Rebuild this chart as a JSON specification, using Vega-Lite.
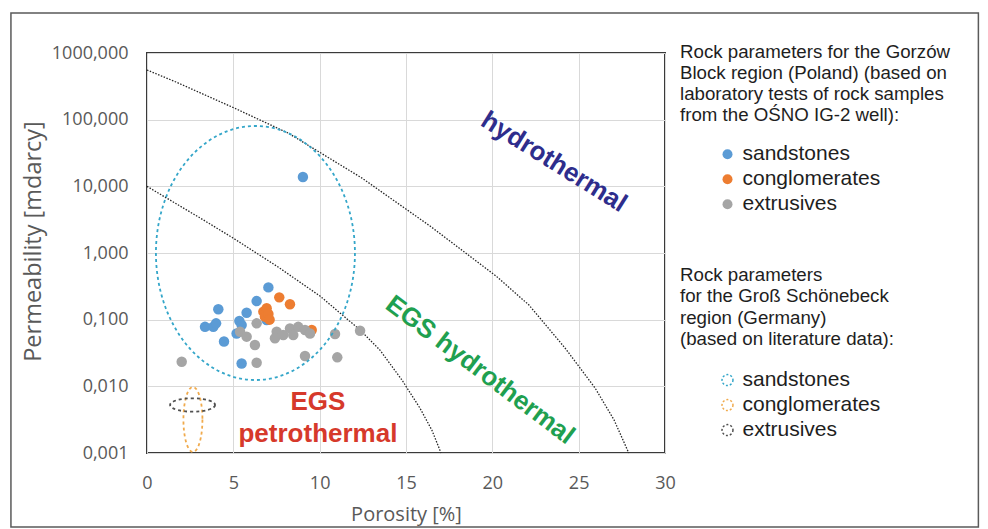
{
  "$schema": "https://vega.github.io/schema/vega-lite/v6.json",
  "width": 518,
  "height": 400,
  "autosize": {"type": "none"},
  "padding": {"left": 147, "top": 53, "right": 323, "bottom": 76},
  "background": "white",
  "config": {
    "view": {"stroke": "#3a3a3a", "strokeWidth": 2},
    "axis": {
      "grid": true,
      "gridColor": "#d9d9d9",
      "gridWidth": 1,
      "ticks": false,
      "domain": false,
      "labelFont": "Open Sans",
      "labelFontSize": 18,
      "labelColor": "#595959",
      "titleFont": "Open Sans",
      "titleFontSize": 20,
      "titleFontWeight": "normal",
      "titleColor": "#595959",
      "labelFlush": false
    },
    "legend": {
      "padding": 0,
      "titleFont": "Liberation Sans",
      "titleFontSize": 18.7,
      "titleFontWeight": "normal",
      "titleColor": "#1e1e1e",
      "titleLimit": 400,
      "titleLineHeight": 21,
      "labelFont": "Liberation Sans",
      "labelFontSize": 21,
      "labelColor": "#1e1e1e",
      "labelLimit": 300,
      "rowPadding": 3
    }
  },
  "datasets": {
    "samples": [
      {"rock": "sandstones", "porosity": 7.03, "permeability": 0.305},
      {"rock": "sandstones", "porosity": 6.35, "permeability": 0.19},
      {"rock": "sandstones", "porosity": 4.13, "permeability": 0.143},
      {"rock": "sandstones", "porosity": 5.77, "permeability": 0.127},
      {"rock": "sandstones", "porosity": 5.35, "permeability": 0.0955},
      {"rock": "sandstones", "porosity": 3.36, "permeability": 0.078},
      {"rock": "sandstones", "porosity": 3.84, "permeability": 0.078},
      {"rock": "sandstones", "porosity": 4.0, "permeability": 0.088},
      {"rock": "sandstones", "porosity": 5.48, "permeability": 0.083},
      {"rock": "sandstones", "porosity": 5.19, "permeability": 0.062},
      {"rock": "sandstones", "porosity": 6.93, "permeability": 0.099},
      {"rock": "sandstones", "porosity": 4.46, "permeability": 0.047},
      {"rock": "sandstones", "porosity": 5.48, "permeability": 0.022},
      {"rock": "sandstones", "porosity": 9.03, "permeability": 13.8},
      {"rock": "conglomerates", "porosity": 7.66, "permeability": 0.216},
      {"rock": "conglomerates", "porosity": 8.28, "permeability": 0.17},
      {"rock": "conglomerates", "porosity": 6.74, "permeability": 0.132},
      {"rock": "conglomerates", "porosity": 6.93, "permeability": 0.148},
      {"rock": "conglomerates", "porosity": 6.83, "permeability": 0.111},
      {"rock": "conglomerates", "porosity": 7.03, "permeability": 0.122},
      {"rock": "conglomerates", "porosity": 7.1, "permeability": 0.1},
      {"rock": "conglomerates", "porosity": 9.54, "permeability": 0.07},
      {"rock": "extrusives", "porosity": 2.01, "permeability": 0.0234},
      {"rock": "extrusives", "porosity": 6.35, "permeability": 0.088},
      {"rock": "extrusives", "porosity": 5.39, "permeability": 0.066},
      {"rock": "extrusives", "porosity": 5.77, "permeability": 0.0556},
      {"rock": "extrusives", "porosity": 6.25, "permeability": 0.0417},
      {"rock": "extrusives", "porosity": 6.35, "permeability": 0.0226},
      {"rock": "extrusives", "porosity": 7.51, "permeability": 0.066},
      {"rock": "extrusives", "porosity": 7.41, "permeability": 0.0525},
      {"rock": "extrusives", "porosity": 7.89, "permeability": 0.059},
      {"rock": "extrusives", "porosity": 8.28, "permeability": 0.074},
      {"rock": "extrusives", "porosity": 8.76, "permeability": 0.078},
      {"rock": "extrusives", "porosity": 8.47, "permeability": 0.059},
      {"rock": "extrusives", "porosity": 9.15, "permeability": 0.07},
      {"rock": "extrusives", "porosity": 9.44, "permeability": 0.062},
      {"rock": "extrusives", "porosity": 9.15, "permeability": 0.0285},
      {"rock": "extrusives", "porosity": 10.89, "permeability": 0.061},
      {"rock": "extrusives", "porosity": 11.02, "permeability": 0.0272},
      {"rock": "extrusives", "porosity": 12.34, "permeability": 0.068}
    ],
    "gs": [
      {"rock_gs": "GS sandstones", "porosity": 6.28, "permeability": 1.0},
      {"rock_gs": "GS conglomerates", "porosity": 2.66, "permeability": 0.00318},
      {"rock_gs": "GS extrusives", "porosity": 2.64, "permeability": 0.00525}
    ],
    "curves": [
      {"curve": "EGS", "porosity": 0, "permeability": 10},
      {"curve": "EGS", "porosity": 1.04, "permeability": 6.9},
      {"curve": "EGS", "porosity": 3.08, "permeability": 3.35},
      {"curve": "EGS", "porosity": 4.98, "permeability": 1.68},
      {"curve": "EGS", "porosity": 7.59, "permeability": 0.617},
      {"curve": "EGS", "porosity": 10.02, "permeability": 0.226},
      {"curve": "EGS", "porosity": 12.34, "permeability": 0.07},
      {"curve": "EGS", "porosity": 13.49, "permeability": 0.035},
      {"curve": "EGS", "porosity": 14.77, "permeability": 0.0124},
      {"curve": "EGS", "porosity": 15.81, "permeability": 0.0047},
      {"curve": "EGS", "porosity": 16.5, "permeability": 0.0022},
      {"curve": "EGS", "porosity": 17.03, "permeability": 0.001},
      {"curve": "hydro", "porosity": 0, "permeability": 556},
      {"curve": "hydro", "porosity": 1.68, "permeability": 367},
      {"curve": "hydro", "porosity": 5.04, "permeability": 150},
      {"curve": "hydro", "porosity": 8.17, "permeability": 63},
      {"curve": "hydro", "porosity": 12.45, "permeability": 13.3},
      {"curve": "hydro", "porosity": 16.39, "permeability": 2.54},
      {"curve": "hydro", "porosity": 20.21, "permeability": 0.452},
      {"curve": "hydro", "porosity": 22.12, "permeability": 0.166},
      {"curve": "hydro", "porosity": 24.21, "permeability": 0.0376},
      {"curve": "hydro", "porosity": 25.95, "permeability": 0.00944},
      {"curve": "hydro", "porosity": 27.05, "permeability": 0.00313},
      {"curve": "hydro", "porosity": 27.9, "permeability": 0.001}
    ]
  },
  "layer": [
    {
      "data": {"values": [{}]},
      "mark": {"type": "rect", "fill": "transparent", "stroke": "#5a5a5a", "strokeWidth": 1.5},
      "encoding": {
        "x": {"datum": -7.88, "type": "quantitative", "scale": {"domain": [0, 30], "nice": false, "zero": false}},
        "x2": {"datum": 48.15},
        "y": {"datum": 0.0000776, "type": "quantitative", "scale": {"type": "log", "domain": [0.001, 1000], "nice": false}},
        "y2": {"datum": 3981}
      }
    },
    {
      "data": {"name": "curves"},
      "mark": {"type": "line", "stroke": "#262626", "strokeWidth": 1.3, "strokeDash": [1.5, 1.5]},
      "encoding": {
        "x": {"field": "porosity", "type": "quantitative", "scale": {"domain": [0, 30], "nice": false, "zero": false},
              "axis": {"title": "Porosity [%]", "values": [0, 5, 10, 15, 20, 25, 30], "labelPadding": 21, "titlePadding": 12}},
        "y": {"field": "permeability", "type": "quantitative", "scale": {"type": "log", "domain": [0.001, 1000], "nice": false},
              "axis": {"title": "Permeability [mdarcy]", "titleFontSize": 23.5, "titleY": 188, "values": [0.001, 0.01, 0.1, 1, 10, 100, 1000], "labelPadding": 19, "titlePadding": 6,
                       "labelExpr": "replace(format(datum.value, '.3f'), '.', ',')"}},
        "detail": {"field": "curve"}
      }
    },
    {
      "data": {"name": "samples"},
      "mark": {"type": "circle", "size": 110, "opacity": 1},
      "encoding": {
        "x": {"field": "porosity", "type": "quantitative", "scale": {"domain": [0, 30], "nice": false, "zero": false}},
        "y": {"field": "permeability", "type": "quantitative", "scale": {"type": "log", "domain": [0.001, 1000], "nice": false}},
        "color": {"field": "rock", "type": "nominal",
          "scale": {"domain": ["sandstones", "conglomerates", "extrusives"], "range": ["#5b9bd5", "#ed7d31", "#a5a5a5"]},
          "legend": {
            "title": ["Rock parameters for the Gorzów", "Block region (Poland) (based on", "laboratory tests of rock samples", "from the OŚNO IG-2 well):"],
            "orient": "none", "legendX": 533, "legendY": -10,
            "symbolType": "circle", "symbolSize": 100,
            "symbolOffset": 37, "labelOffset": 4.5, "titlePadding": 19
          }}
      }
    },
    {
      "data": {"name": "gs"},
      "mark": {"type": "point", "filled": false, "size": 64516, "strokeWidth": 1.8, "strokeDash": [3, 3], "opacity": 1},
      "encoding": {
        "x": {"field": "porosity", "type": "quantitative", "scale": {"domain": [0, 30], "nice": false, "zero": false}},
        "y": {"field": "permeability", "type": "quantitative", "scale": {"type": "log", "domain": [0.001, 1000], "nice": false}},
        "shape": {"field": "rock_gs", "type": "nominal", "legend": null,
          "scale": {"domain": ["GS extrusives", "GS conglomerates", "GS sandstones"],
            "range": [
              "M0.1772,0 C0.1772,0.0292 0.0979,0.0528 0,0.0528 C-0.0979,0.0528 -0.1772,0.0292 -0.1772,0 C-0.1772,-0.0292 -0.0979,-0.0528 0,-0.0528 C0.0979,-0.0528 0.1772,-0.0292 0.1772,0 Z",
              "M0.0748,0 C0.0748,0.1413 0.0413,0.2559 0,0.2559 C-0.0413,0.2559 -0.0748,0.1413 -0.0748,0 C-0.0748,-0.1413 -0.0413,-0.2559 0,-0.2559 C0.0413,-0.2559 0.0748,-0.1413 0.0748,0 Z",
              "M0.7835,0 C0.7835,0.5523 0.4327,1 0,1 C-0.4327,1 -0.7835,0.5523 -0.7835,0 C-0.7835,-0.5523 -0.4327,-1 0,-1 C0.4327,-1 0.7835,-0.5523 0.7835,0 Z"
            ]}},
        "stroke": {"field": "rock_gs", "type": "nominal",
          "scale": {"domain": ["GS sandstones", "GS conglomerates", "GS extrusives"], "range": ["#34a6c9", "#f0aa4c", "#505050"]},
          "legend": {
            "title": ["Rock parameters", "for the Groß Schönebeck", "region (Germany)", "(based on literature data):"],
            "orient": "none", "legendX": 533, "legendY": 213,
            "labelExpr": "replace(datum.label, 'GS ', '')",
            "titleLineHeight": 21.3,
            "symbolType": "circle", "symbolSize": 120, "symbolDash": [2, 2], "symbolStrokeWidth": 1.5,
            "symbolFillColor": "transparent",
            "symbolOffset": 37, "labelOffset": 4.5, "titlePadding": 21
          }}
      }
    },
    {
      "data": {"values": [{}]},
      "mark": {"type": "text", "text": "hydrothermal", "font": "Liberation Sans", "fontWeight": "bold", "fontSize": 26, "color": "#2e2d8c", "angle": 32, "align": "center", "baseline": "middle"},
      "encoding": {
        "x": {"datum": 23.57, "type": "quantitative"},
        "y": {"datum": 23.2, "type": "quantitative"}
      }
    },
    {
      "data": {"values": [{}]},
      "mark": {"type": "text", "text": "EGS hydrothermal", "font": "Liberation Sans", "fontWeight": "bold", "fontSize": 26, "color": "#1fa050", "angle": 37, "align": "center", "baseline": "middle"},
      "encoding": {
        "x": {"datum": 19.29, "type": "quantitative"},
        "y": {"datum": 0.0176, "type": "quantitative"}
      }
    },
    {
      "data": {"values": [{}]},
      "mark": {"type": "text", "text": ["EGS", "petrothermal"], "font": "Liberation Sans", "fontWeight": "bold", "fontSize": 26, "lineHeight": 32, "color": "#d6392b", "align": "center", "baseline": "middle"},
      "encoding": {
        "x": {"datum": 9.9, "type": "quantitative"},
        "y": {"datum": 0.00592, "type": "quantitative"}
      }
    }
  ]
}
